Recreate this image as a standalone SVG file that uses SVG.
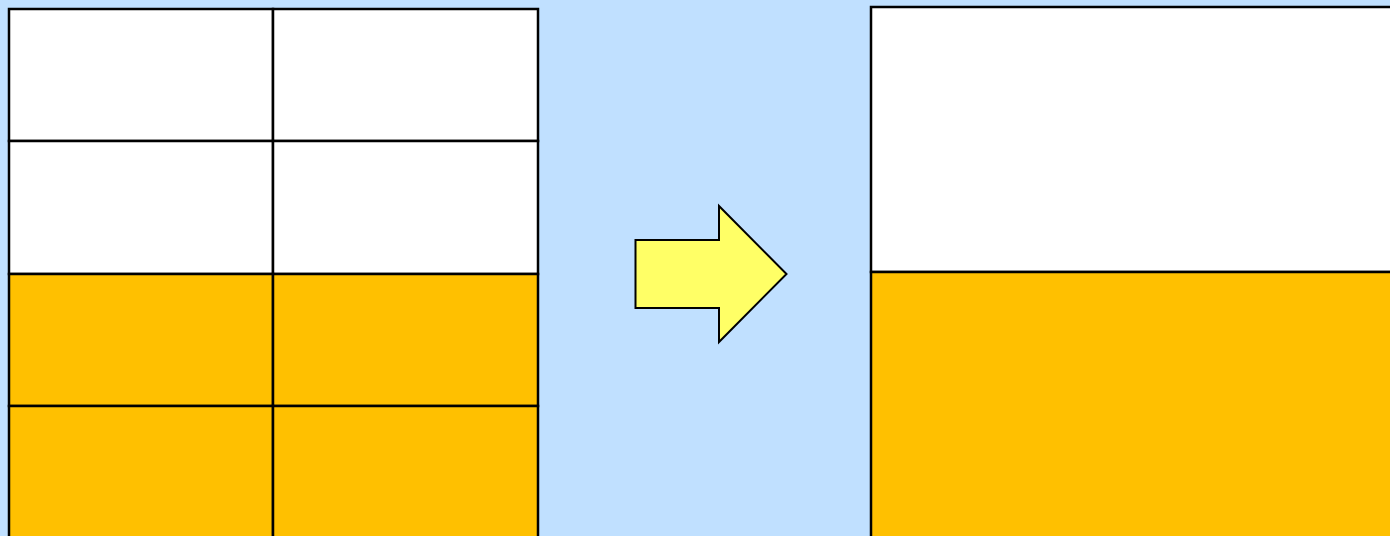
<svg xmlns="http://www.w3.org/2000/svg" width="1390" height="536" viewBox="0 0 1390 536">
<style>
.cell{stroke:#000;stroke-width:2.5}
.w{fill:#FFFFFF}
.o{fill:#FFC000}
.arrow{fill:#FFFF66;stroke:#000;stroke-width:2;stroke-linejoin:miter}
</style>
<rect x="0" y="0" width="1390" height="536" fill="#C0E0FF"/>
<g id="left-grid">
<rect class="cell w" x="9" y="9" width="264" height="132"/>
<rect class="cell w" x="273" y="9" width="265" height="132"/>
<rect class="cell w" x="9" y="141" width="264" height="133"/>
<rect class="cell w" x="273" y="141" width="265" height="133"/>
<rect class="cell o" x="9" y="274" width="264" height="132"/>
<rect class="cell o" x="273" y="274" width="265" height="132"/>
<rect class="cell o" x="9" y="406" width="264" height="133"/>
<rect class="cell o" x="273" y="406" width="265" height="133"/>
</g>
<g id="arrow">
<polygon class="arrow" points="635.5,240 719,240 719,206 786.5,274 719,342 719,308 635.5,308"/>
</g>
<g id="right-panel">
<rect class="cell w" x="871" y="7" width="525" height="265"/>
<rect class="cell o" x="871" y="272" width="525" height="270"/>
</g>
</svg>
